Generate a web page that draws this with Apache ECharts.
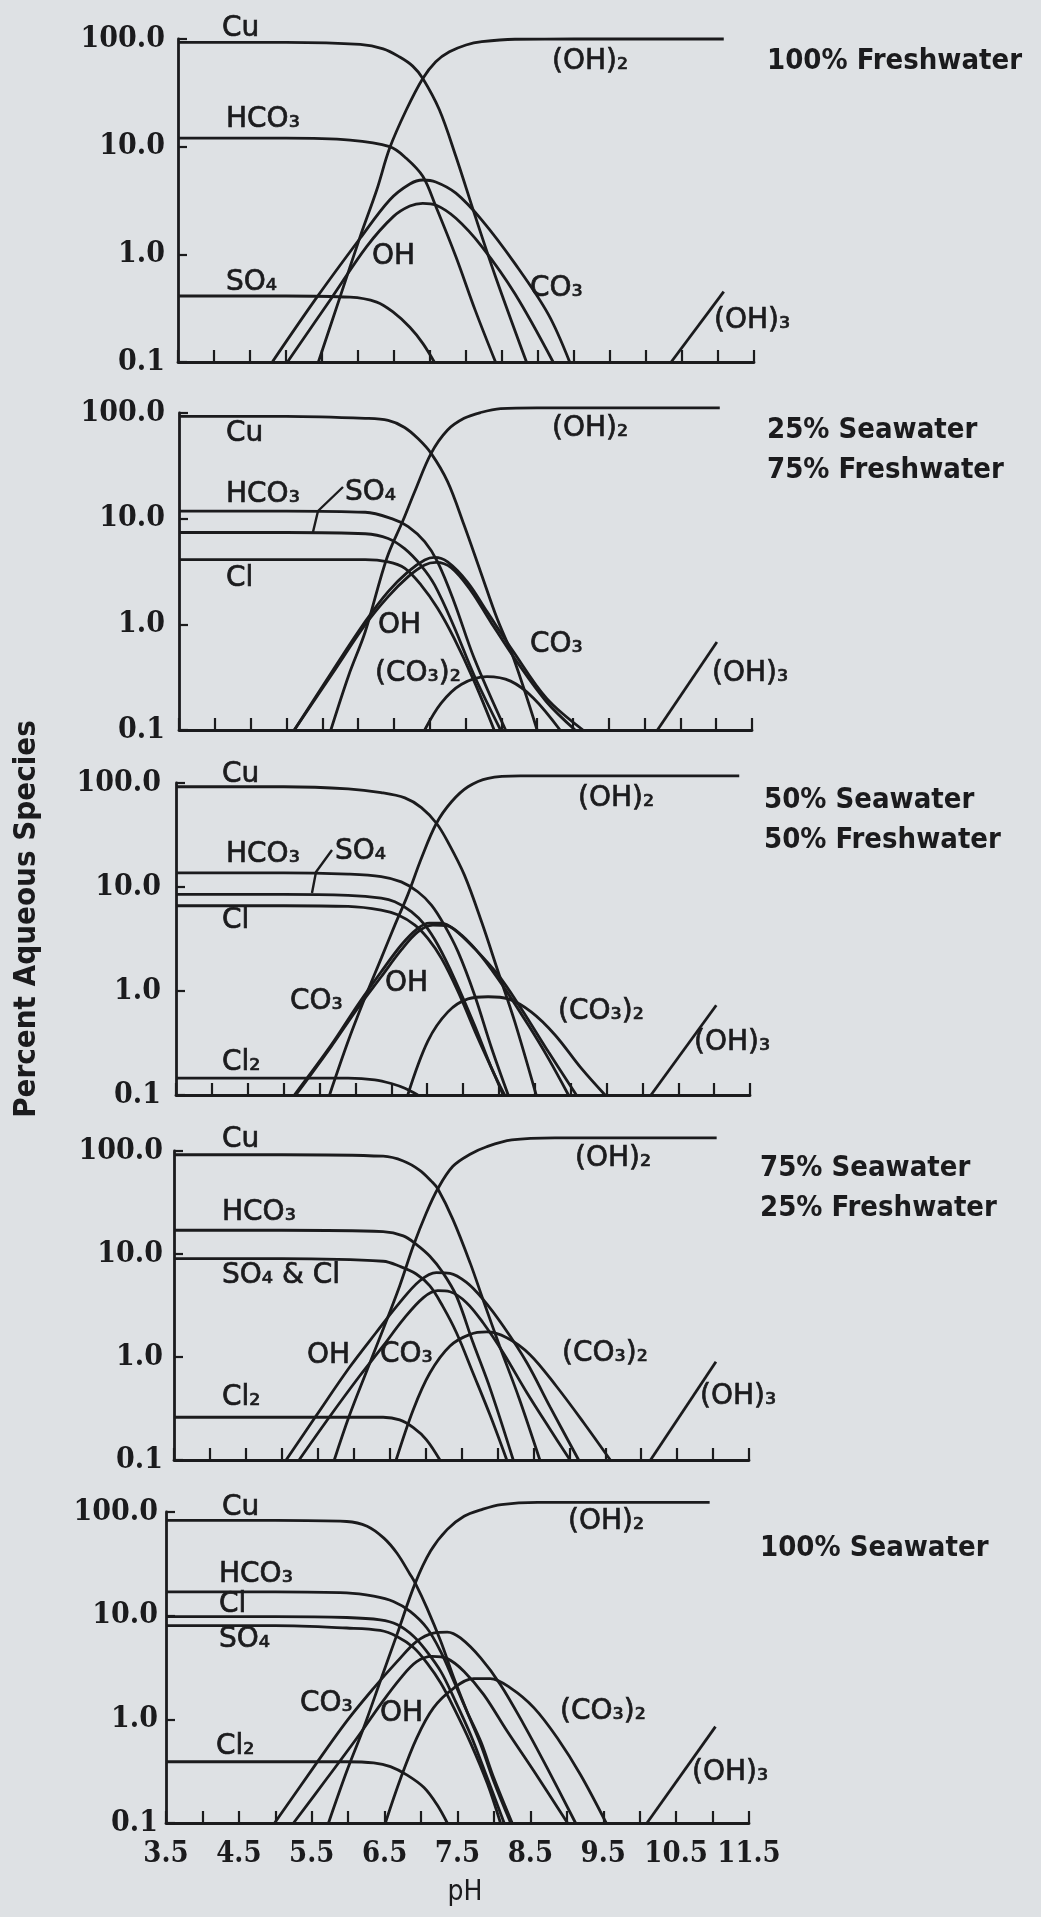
<!DOCTYPE html>
<html><head><meta charset="utf-8">
<script src="https://cdn.jsdelivr.net/npm/echarts@6/dist/echarts.min.js"></script>
<style>html,body{margin:0;padding:0;background:#dee1e4}#c{width:1041px;height:1917px}</style>
</head><body><div id="c"></div>
<script>
// ---------- tick labels ----------
const xTickLabels = ['3.5','4.5','5.5','6.5','7.5','8.5','9.5','10.5','11.5'];
const yTickLabels = ['0.1','1.0','10.0','100.0'];
const panelTitles = [['100% Freshwater'],['25% Seawater','75% Freshwater'],['50% Seawater','50% Freshwater'],['75% Seawater','25% Freshwater'],['100% Seawater']];

// ---------- Panel 1: 100% Freshwater  [pH, % aqueous] ----------
const p1Cu   = [[3.5,93],[5.0,93],[6.03,89],[6.35,81],[6.58,68],[6.76,56],[6.9,43],[7.13,22],[7.36,8.1],[7.63,2.24],[7.91,0.62],[8.34,0.1]];
const p1OH2  = [[5.45,0.1],[5.75,0.40],[6.03,1.46],[6.26,3.96],[6.44,9.7],[6.67,21.9],[6.9,43],[7.08,61.6],[7.27,76],[7.5,88],[7.72,94.5],[8.18,99.5],[9.0,100],[11.08,100]];
const p1HCO3 = [[3.5,12],[5.0,12],[5.89,11.5],[6.44,10],[6.67,7.8],[6.9,5.3],[7.08,2.8],[7.36,0.95],[7.63,0.30],[7.91,0.1]];
const p1SO4  = [[3.5,0.41],[5.0,0.41],[5.89,0.40],[6.26,0.36],[6.49,0.29],[6.72,0.21],[6.9,0.149],[7.06,0.1]];
const p1CO3  = [[4.81,0.1],[5.43,0.40],[6.03,1.41],[6.44,3.2],[6.72,4.5],[6.9,4.9],[7.08,4.7],[7.36,3.7],[7.72,2.08],[8.18,0.82],[8.64,0.28],[8.94,0.1]];
const p1OH   = [[5.02,0.1],[5.64,0.40],[6.12,1.18],[6.49,2.24],[6.72,2.81],[6.9,2.98],[7.08,2.87],[7.36,2.16],[7.72,1.18],[8.18,0.43],[8.71,0.1]];
const p1OH3  = [[10.35,0.1],[11.08,0.45]];

// ---------- Panel 2: 25% Seawater ----------
const p2Cu   = [[3.5,93],[5.0,93],[6.1,89],[6.42,85],[6.65,73],[6.84,57],[7.02,41.5],[7.25,22.4],[7.48,8.7],[7.71,3.15],[7.94,1.14],[8.17,0.48],[8.5,0.1]];
const p2OH2  = [[5.62,0.1],[5.87,0.33],[6.10,0.85],[6.40,4.2],[6.63,9.7],[6.79,18],[7.02,41.5],[7.25,69],[7.48,89],[7.71,101],[7.99,110],[8.5,112],[11.05,112]];
const p2HCO3 = [[3.5,11.8],[5.0,11.8],[6.1,11.5],[6.47,10],[6.70,8.4],[6.93,6.05],[7.11,3.9],[7.34,1.64],[7.62,0.48],[8.06,0.1]];
const p2SO4  = [[3.5,7.4],[5.0,7.4],[6.1,7.2],[6.42,6.5],[6.65,5.2],[6.88,3.6],[7.07,2.35],[7.34,0.95],[7.62,0.33],[7.99,0.1]];
const p2Cl   = [[3.5,4.1],[5.0,4.1],[6.1,4.1],[6.42,3.9],[6.65,3.4],[6.88,2.35],[7.11,1.42],[7.34,0.74],[7.62,0.29],[7.9,0.1]];
const p2CO3  = [[5.11,0.1],[5.64,0.36],[6.10,1.06],[6.42,2.04],[6.70,3.15],[6.93,4.06],[7.07,4.3],[7.25,3.9],[7.53,2.5],[7.80,1.32],[8.17,0.55],[8.63,0.2],[9.14,0.1]];
const p2OH   = [[5.11,0.1],[5.64,0.34],[6.10,0.99],[6.42,1.83],[6.70,2.83],[6.93,3.65],[7.09,3.86],[7.30,3.44],[7.57,2.11],[7.85,1.06],[8.22,0.44],[8.63,0.185],[9.03,0.1]];
const p2CO32 = [[6.93,0.1],[7.16,0.18],[7.44,0.27],[7.80,0.32],[8.13,0.29],[8.45,0.2],[8.82,0.1]];
const p2OH3  = [[10.18,0.1],[11.01,0.68]];

// ---------- Panel 3: 50% Seawater ----------
const p3Cu   = [[3.5,92],[5.0,92],[5.9,88],[6.36,81],[6.69,72],[6.92,58],[7.13,41],[7.29,27],[7.52,13],[7.76,4.6],[7.99,1.53],[8.22,0.51],[8.52,0.1]];
const p3OH2  = [[5.64,0.1],[5.90,0.33],[6.13,0.85],[6.36,2.06],[6.55,4.3],[6.73,8.4],[6.92,18.9],[7.13,41],[7.34,66],[7.57,92],[7.85,111],[8.3,117],[11.35,117]];
const p3HCO3 = [[3.5,13.7],[5.0,13.7],[5.9,13.3],[6.36,12.6],[6.64,11.2],[6.87,9],[7.06,6.7],[7.24,4.3],[7.43,2.39],[7.66,0.92],[7.9,0.28],[8.13,0.1]];
const p3SO4  = [[3.5,8.5],[5.0,8.5],[5.9,8.3],[6.36,7.8],[6.55,7.2],[6.78,5.8],[6.97,4.3],[7.15,2.77],[7.38,1.32],[7.66,0.47],[7.9,0.18],[8.08,0.1]];
const p3Cl   = [[3.5,6.6],[5.0,6.6],[5.9,6.5],[6.36,6.0],[6.59,5.4],[6.83,4.3],[7.01,3.2],[7.20,2.06],[7.43,0.99],[7.71,0.35],[7.94,0.156],[8.06,0.1]];
const p3CO3  = [[5.15,0.1],[5.66,0.30],[6.03,0.73],[6.36,1.53],[6.64,2.77],[6.87,4.0],[7.03,4.5],[7.20,4.5],[7.38,3.9],[7.66,2.57],[7.99,1.43],[8.31,0.68],[8.69,0.26],[9.08,0.1]];
const p3OH   = [[5.17,0.1],[5.66,0.29],[6.03,0.68],[6.36,1.37],[6.64,2.48],[6.87,3.7],[7.08,4.3],[7.27,4.25],[7.48,3.45],[7.76,2.14],[8.08,1.06],[8.41,0.47],[8.69,0.225],[8.97,0.1]];
const p3CO32 = [[6.73,0.1],[7.01,0.33],[7.29,0.63],[7.57,0.84],[7.85,0.88],[8.13,0.84],[8.45,0.63],[8.78,0.38],[9.15,0.18],[9.48,0.1]];
const p3Cl2  = [[3.5,0.145],[5.9,0.145],[6.27,0.14],[6.5,0.129],[6.69,0.116],[6.87,0.1]];
const p3OH3  = [[10.12,0.1],[11.03,0.73]];

// ---------- Panel 4: 75% Seawater ----------
const p4Cu    = [[3.5,92],[5.0,92],[6.41,89],[6.69,80],[6.92,65],[7.08,51],[7.17,43],[7.38,21.7],[7.62,8.2],[7.80,3.6],[8.03,1.28],[8.3,0.4],[8.59,0.1]];
const p4OH2   = [[5.73,0.1],[5.94,0.27],[6.17,0.70],[6.41,1.86],[6.64,4.9],[6.83,12],[7.01,25],[7.17,43],[7.38,71],[7.62,93],[7.85,110],[8.2,128],[8.8,134],[11.05,134]];
const p4HCO3  = [[3.5,17],[5.0,17],[6.41,16.5],[6.69,15],[6.87,12.4],[7.06,9.5],[7.24,6.6],[7.43,3.9],[7.66,1.38],[7.9,0.49],[8.22,0.1]];
const p4SO4Cl = [[3.5,9.0],[5.0,9.0],[6.41,8.5],[6.64,7.6],[6.87,6.4],[7.06,4.9],[7.24,3.1],[7.43,1.72],[7.66,0.70],[7.9,0.27],[8.13,0.1]];
const p4CO3   = [[5.06,0.1],[5.48,0.27],[5.94,0.79],[6.31,1.72],[6.64,3.37],[6.92,5.5],[7.15,6.6],[7.34,6.5],[7.57,5.3],[7.80,3.63],[8.08,2.0],[8.41,0.88],[8.73,0.33],[9.13,0.1]];
const p4OH    = [[5.24,0.1],[5.66,0.26],[6.08,0.65],[6.41,1.28],[6.69,2.32],[6.97,3.77],[7.17,4.4],[7.34,4.3],[7.57,3.37],[7.80,2.15],[8.08,1.1],[8.41,0.45],[8.73,0.2],[9.01,0.1]];
const p4CO32  = [[6.59,0.1],[6.83,0.31],[7.06,0.70],[7.34,1.28],[7.62,1.66],[7.85,1.75],[8.13,1.54],[8.45,1.06],[8.82,0.52],[9.2,0.23],[9.57,0.1]];
const p4Cl2   = [[3.5,0.26],[6.41,0.26],[6.64,0.245],[6.83,0.206],[7.01,0.158],[7.2,0.1]];
const p4OH3   = [[10.13,0.1],[11.04,0.9]];

// ---------- Panel 5: 100% Seawater ----------
const p5Cu   = [[3.5,83],[5.0,83],[5.98,81],[6.26,73],[6.49,56],[6.67,40],[6.85,25],[6.92,20.6],[7.08,11.9],[7.27,5.65],[7.45,2.5],[7.63,1.19],[7.82,0.57],[8.0,0.25],[8.23,0.1]];
const p5OH2  = [[5.73,0.1],[5.98,0.315],[6.21,0.82],[6.44,2.33],[6.67,6.6],[6.92,20.6],[7.13,42],[7.36,68],[7.59,91],[7.82,105],[8.1,118],[8.6,124],[10.96,124]];
const p5HCO3 = [[3.5,17],[5.0,17],[5.98,16.6],[6.35,15.4],[6.62,13.7],[6.85,11],[7.08,7.6],[7.27,4.5],[7.45,2.33],[7.63,1.19],[7.82,0.61],[8.0,0.27],[8.25,0.1]];
const p5Cl   = [[3.5,9.8],[5.0,9.8],[5.98,9.6],[6.44,9.1],[6.67,8.2],[6.9,6.3],[7.08,4.5],[7.27,2.9],[7.45,1.61],[7.68,0.71],[7.91,0.27],[8.14,0.1]];
const p5SO4  = [[3.5,8.0],[5.0,8.0],[5.98,7.6],[6.44,7.2],[6.67,6.3],[6.9,4.9],[7.08,3.5],[7.27,2.24],[7.45,1.29],[7.68,0.59],[7.91,0.24],[8.09,0.1]];
const p5CO3  = [[4.99,0.1],[5.52,0.34],[5.98,0.96],[6.35,2.0],[6.67,3.6],[6.94,5.65],[7.17,6.8],[7.36,6.95],[7.54,6.1],[7.82,3.9],[8.09,2.16],[8.41,0.89],[8.73,0.34],[9.12,0.1]];
const p5OH   = [[5.25,0.1],[5.71,0.27],[6.12,0.66],[6.44,1.38],[6.72,2.5],[6.94,3.6],[7.15,4.05],[7.36,3.85],[7.59,2.9],[7.86,1.73],[8.18,0.77],[8.55,0.315],[9.01,0.1]];
const p5CO32 = [[6.51,0.1],[6.72,0.27],[6.94,0.66],[7.17,1.29],[7.45,2.0],[7.72,2.47],[7.95,2.47],[8.23,2.0],[8.55,1.29],[8.87,0.66],[9.19,0.29],[9.54,0.1]];
const p5Cl2  = [[3.5,0.39],[5.98,0.39],[6.35,0.38],[6.58,0.35],[6.81,0.29],[7.04,0.22],[7.22,0.15],[7.36,0.1]];
const p5OH3  = [[10.1,0.1],[11.04,0.85]];

const panelSeries = [
  [p1Cu,p1OH2,p1HCO3,p1SO4,p1CO3,p1OH,p1OH3],
  [p2Cu,p2OH2,p2HCO3,p2SO4,p2Cl,p2CO3,p2OH,p2CO32,p2OH3],
  [p3Cu,p3OH2,p3HCO3,p3SO4,p3Cl,p3CO3,p3OH,p3CO32,p3Cl2,p3OH3],
  [p4Cu,p4OH2,p4HCO3,p4SO4Cl,p4CO3,p4OH,p4CO32,p4Cl2,p4OH3],
  [p5Cu,p5OH2,p5HCO3,p5Cl,p5SO4,p5CO3,p5OH,p5CO32,p5Cl2,p5OH3]
];

// ---------- layout (pixels) ----------
const frames = [
  {L:178,R:754,T:39,B:362,m:13},
  {L:179,R:752,T:413,B:730,m:14},
  {L:176,R:750,T:783,B:1095,m:15},
  {L:174,R:749,T:1151,B:1460,m:11},
  {L:166,R:749,T:1512,B:1823,m:8}
];
const speciesLabels = [
  [['Cu',222,29],['HCO₃',226,120],['SO₄',226,283],['OH',372,257],['CO₃',530,289],['(OH)₂',552,62],['(OH)₃',714,321]],
  [['Cu',226,434],['HCO₃',226,495],['SO₄',345,493],['Cl',226,579],['OH',378,626],['(CO₃)₂',375,674],['CO₃',530,645],['(OH)₂',552,429],['(OH)₃',712,674]],
  [['Cu',222,775],['HCO₃',226,855],['SO₄',335,852],['Cl',222,921],['CO₃',290,1002],['OH',385,984],['(CO₃)₂',558,1012],['(OH)₂',578,799],['Cl₂',222,1063],['(OH)₃',694,1043]],
  [['Cu',222,1140],['HCO₃',222,1213],['SO₄ & Cl',222,1276],['OH',307,1356],['CO₃',380,1355],['(CO₃)₂',562,1354],['(OH)₂',575,1159],['Cl₂',222,1398],['(OH)₃',700,1397]],
  [['Cu',222,1508],['HCO₃',219,1575],['Cl',219,1605],['SO₄',219,1640],['CO₃',300,1704],['OH',380,1714],['(CO₃)₂',560,1712],['(OH)₂',568,1522],['Cl₂',216,1747],['(OH)₃',692,1773]]
];
const titlePos = [[767,[61]],[767,[430,470]],[764,[800,840]],[760,[1168,1208]],[760,[1548]]];

const INK = '#1b1b1d';
const LW = 2.8;
const tickFont = '"DejaVu Serif Condensed","DejaVu Serif",serif';

const grids=[], xAxes=[], yAxes=[], series=[], graphic=[];
frames.forEach((f,i)=>{
  grids.push({left:f.L, top:f.T, width:f.R-f.L, height:f.B-f.T, containLabel:false});
  xAxes.push({
    gridIndex:i, type:'value', min:3.5, max:11.5, interval:0.5,
    axisLine:{show:true, onZero:false, lineStyle:{color:INK,width:LW}},
    axisTick:{show:true, inside:true, length:12, lineStyle:{color:INK,width:2.2}},
    axisLabel:{show:i===4, margin:17, color:INK, fontFamily:tickFont, fontWeight:'bold', fontSize:29,
      formatter:v=>{const s=(+v).toFixed(1); return xTickLabels.includes(s)?s:'';}},
    splitLine:{show:false}
  });
  yAxes.push({
    gridIndex:i, type:'log', logBase:10, min:0.1, max:100,
    axisLine:{show:true, lineStyle:{color:INK,width:LW}},
    axisTick:{show:true, inside:true, length:9, lineStyle:{color:INK,width:2.2}},
    minorTick:{show:false},
    axisLabel:{margin:f.m, color:INK, fontFamily:tickFont, fontWeight:'bold', fontSize:30,
      formatter:v=>yTickLabels[Math.round(Math.log10(v))+1]},
    splitLine:{show:false}
  });
  panelSeries[i].forEach(d=>{
    series.push({type:'line', xAxisIndex:i, yAxisIndex:i, data:d, smooth:0.35, symbol:'none',
      showSymbol:false, clip:false, silent:true, lineStyle:{color:INK,width:LW}});
  });
  speciesLabels[i].forEach(([t,x,y])=>{
    graphic.push({type:'text', x, y, silent:true,
      style:{text:t, fill:INK, stroke:INK, lineWidth:0.7, font:'28px "DejaVu Sans"', align:'left', verticalAlign:'middle'}});
  });
  const [tx,tys]=titlePos[i];
  panelTitles[i].forEach((t,k)=>{
    graphic.push({type:'text', x:tx, y:tys[k], silent:true,
      style:{text:t, fill:INK, font:'bold 29px "DejaVu Sans Condensed"', align:'left', verticalAlign:'middle'}});
  });
});
// SO4 pointer strokes
graphic.push({type:'polyline', silent:true, shape:{points:[[343,487],[318,511],[313,532]]}, style:{stroke:INK, lineWidth:2.4, fill:null}});
graphic.push({type:'polyline', silent:true, shape:{points:[[332,850],[316,872],[312,893]]}, style:{stroke:INK, lineWidth:2.4, fill:null}});
// axis titles
graphic.push({type:'text', x:27, y:919, rotation:Math.PI/2, silent:true,
  style:{text:'Percent Aqueous Species', fill:INK, font:'bold 31px "DejaVu Sans Condensed"', align:'center', verticalAlign:'middle'}});
graphic.push({type:'text', x:465, y:1893, silent:true,
  style:{text:'pH', fill:INK, font:'28px "DejaVu Sans Condensed"', align:'center', verticalAlign:'middle'}});

const chart = echarts.init(document.getElementById('c'), null, {renderer:'canvas'});
chart.setOption({
  backgroundColor:'#dee1e4', animation:false,
  grid:grids, xAxis:xAxes, yAxis:yAxes, series, graphic
});
</script></body></html>
